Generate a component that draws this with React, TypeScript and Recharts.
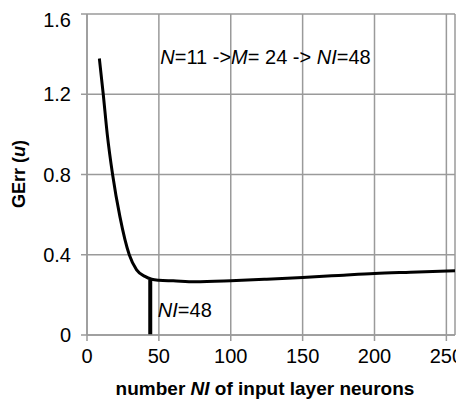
import React from 'react';
import { ComposedChart, Line, XAxis, YAxis, CartesianGrid, ReferenceDot, Label } from 'recharts';

const neurons = [8.6, 11.3, 14.1, 17.8, 22.9, 29.4, 34.5, 40.3, 45, 50, 60, 75, 100, 125, 150, 175, 200, 225, 256];
const gerr = [1.378, 1.2, 1.0, 0.8, 0.59, 0.4, 0.325, 0.292, 0.278, 0.273, 0.27, 0.265, 0.27, 0.278, 0.287, 0.297, 0.307, 0.313, 0.32];
const xTicks = [0, 50, 100, 150, 200, 250];
const yTicks = [0, 0.4, 0.8, 1.2, 1.6];
const optimumX = 44;
const optimumY = [0, 0.275];

const curve = neurons.map((x, i) => ({ x, y: gerr[i] }));
const marker = optimumY.map((y) => ({ x: optimumX, y }));

const GRID = '#9a9a9a';

const TopNote = (props: any) => {
  const vb = props.viewBox || {};
  return (
    <text x={vb.x} y={vb.y} fontSize={20} fill="#000">
      <tspan fontStyle="italic">N</tspan>=11 -&gt;<tspan fontStyle="italic">M</tspan>= 24 -&gt; <tspan fontStyle="italic">NI</tspan>=48
    </text>
  );
};

const OptNote = (props: any) => {
  const vb = props.viewBox || {};
  return (
    <text x={vb.x} y={vb.y} fontSize={20} fill="#000">
      <tspan fontStyle="italic">NI</tspan>=48
    </text>
  );
};

const XTitle = () => (
  <text x={257} y={387} textAnchor="middle" fontSize={19} fontWeight="bold" fill="#000">
    number <tspan fontStyle="italic">NI</tspan> of input layer neurons
  </text>
);

const YTitle = () => (
  <text x={17} y={166} transform="rotate(-90, 17, 166)" textAnchor="middle" fontSize={18} fontWeight="bold" fill="#000">
    GErr (<tspan fontStyle="italic">u</tspan>)
  </text>
);

export default function App() {
  return (
    <div style={{ fontFamily: '"Liberation Sans", Arial, sans-serif' }}>
      <ComposedChart width={456} height={394} margin={{ top: 6, right: 9, left: 0, bottom: 0 }}>
        <CartesianGrid stroke={GRID} strokeWidth={1.5} />
        <XAxis
          dataKey="x"
          type="number"
          domain={[0, 256]}
          ticks={xTicks}
          allowDataOverflow
          height={67}
          tickSize={6}
          tickMargin={8}
          axisLine={{ stroke: GRID, strokeWidth: 1.5 }}
          tickLine={{ stroke: GRID, strokeWidth: 1.5 }}
          tick={{ fontSize: 20, fill: '#000' }}
        >
          <Label content={XTitle} />
        </XAxis>
        <YAxis
          type="number"
          domain={[0, 1.6]}
          ticks={yTicks}
          allowDataOverflow
          width={79}
          tickSize={6}
          tickMargin={10}
          axisLine={{ stroke: GRID, strokeWidth: 1.5 }}
          tickLine={{ stroke: GRID, strokeWidth: 1.5 }}
          tick={{ fontSize: 20, fill: '#000' }}
        >
          <Label content={YTitle} />
        </YAxis>
        <Line data={curve} dataKey="y" type="monotone" stroke="#000" strokeWidth={3} dot={false} isAnimationActive={false} />
        <Line data={marker} dataKey="y" type="linear" stroke="#000" strokeWidth={4} dot={false} isAnimationActive={false} />
        <ReferenceDot x={51} y={1.35} r={0} fill="none" stroke="none" ifOverflow="visible" label={<Label content={TopNote} />} />
        <ReferenceDot x={49.3} y={0.092} r={0} fill="none" stroke="none" ifOverflow="visible" label={<Label content={OptNote} />} />
      </ComposedChart>
    </div>
  );
}
